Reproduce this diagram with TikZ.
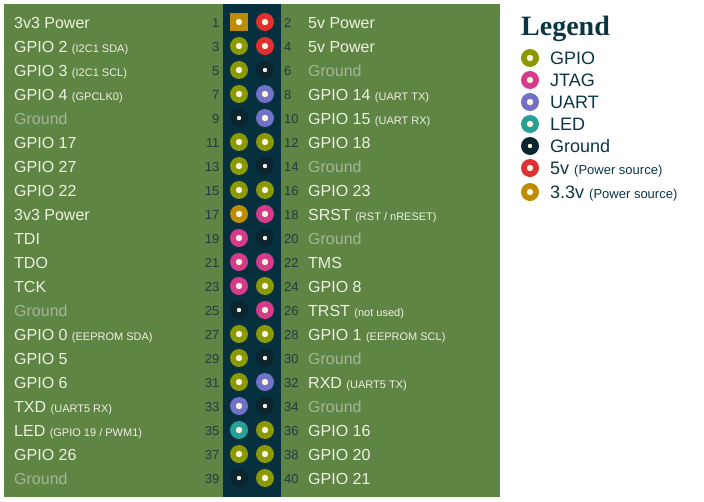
\documentclass[tikz,border=0pt]{standalone}
\usepackage{fontspec}
\setmainfont{Liberation Sans}
\newfontfamily\titlefont{Liberation Serif}

\definecolor{board}{RGB}{95,133,69}
\definecolor{strip}{RGB}{7,48,62}
\definecolor{gpioc}{RGB}{138,153,0}
\definecolor{jtagc}{RGB}{214,58,138}
\definecolor{uartc}{RGB}{113,113,200}
\definecolor{ledc}{RGB}{40,160,152}
\definecolor{gndc}{RGB}{10,36,48}
\definecolor{fivec}{RGB}{224,48,48}
\definecolor{threec}{RGB}{189,140,0}
\definecolor{dotc}{RGB}{255,248,225}
\definecolor{lighttext}{RGB}{238,240,225}
\definecolor{gndtext}{RGB}{160,184,148}
\definecolor{numc}{RGB}{30,62,60}
\definecolor{ink}{RGB}{11,53,69}

\newcommand{\pinnote}[1]{{\fontsize{11}{13}\selectfont(#1)}}

\tikzset{
  hole/.style={circle, minimum size=18pt, inner sep=0pt,
    path picture={\fill[dotc] (path picture bounding box.center) circle (3.2pt);}},
  gpio/.style={fill=gpioc},
  jtag/.style={fill=jtagc},
  uart/.style={fill=uartc},
  led/.style={fill=ledc},
  fivev/.style={fill=fivec},
  threev/.style={fill=threec},
  threevsq/.style={rectangle, fill=threec},
  gnd/.style={fill=gndc,
    path picture={\fill[dotc] (path picture bounding box.center) circle (2.2pt);}},
  lbl/.style={inner sep=0pt, text=lighttext, font=\fontsize{16}{19}\selectfont},
  gndlbl/.style={lbl, text=gndtext},
  num/.style={inner sep=0pt, text=numc, font=\fontsize{13}{15}\selectfont},
  keytext/.style={inner sep=0pt, text=ink, font=\fontsize{18}{21}\selectfont}
}

\begin{document}
\begin{tikzpicture}[x=1pt,y=-1pt]
\useasboundingbox (0,0) rectangle (704,501);

% header board
\fill[board] (4,4) rectangle (500,497);
\fill[strip] (223,4) rectangle (281,497);

% odd pins, left side
\foreach \n/\kind/\txt/\look [count=\r from 0] in {
    1/threevsq/{3v3 Power}/lbl,
    3/gpio/{GPIO 2 \pinnote{I2C1 SDA}}/lbl,
    5/gpio/{GPIO 3 \pinnote{I2C1 SCL}}/lbl,
    7/gpio/{GPIO 4 \pinnote{GPCLK0}}/lbl,
    9/gnd/{Ground}/gndlbl,
    11/gpio/{GPIO 17}/lbl,
    13/gpio/{GPIO 27}/lbl,
    15/gpio/{GPIO 22}/lbl,
    17/threev/{3v3 Power}/lbl,
    19/jtag/{TDI}/lbl,
    21/jtag/{TDO}/lbl,
    23/jtag/{TCK}/lbl,
    25/gnd/{Ground}/gndlbl,
    27/gpio/{GPIO 0 \pinnote{EEPROM SDA}}/lbl,
    29/gpio/{GPIO 5}/lbl,
    31/gpio/{GPIO 6}/lbl,
    33/uart/{TXD \pinnote{UART5 RX}}/lbl,
    35/led/{LED \pinnote{GPIO 19 / PWM1}}/lbl,
    37/gpio/{GPIO 26}/lbl,
    39/gnd/{Ground}/gndlbl}{
  \node[hole, \kind] (p\n) at (239,22+24*\r) {};
  \node[num, anchor=base east] (n\n) at (219.5,27.4+24*\r) {\n};
  \node[\look, anchor=base west] (t\n) at (14,28.3+24*\r) {\txt};
}

% even pins, right side
\foreach \n/\kind/\txt/\look [count=\r from 0] in {
    2/fivev/{5v Power}/lbl,
    4/fivev/{5v Power}/lbl,
    6/gnd/{Ground}/gndlbl,
    8/uart/{GPIO 14 \pinnote{UART TX}}/lbl,
    10/uart/{GPIO 15 \pinnote{UART RX}}/lbl,
    12/gpio/{GPIO 18}/lbl,
    14/gnd/{Ground}/gndlbl,
    16/gpio/{GPIO 23}/lbl,
    18/jtag/{SRST \pinnote{RST / nRESET}}/lbl,
    20/gnd/{Ground}/gndlbl,
    22/jtag/{TMS}/lbl,
    24/gpio/{GPIO 8}/lbl,
    26/jtag/{TRST \pinnote{not used}}/lbl,
    28/gpio/{GPIO 1 \pinnote{EEPROM SCL}}/lbl,
    30/gnd/{Ground}/gndlbl,
    32/uart/{RXD \pinnote{UART5 TX}}/lbl,
    34/gnd/{Ground}/gndlbl,
    36/gpio/{GPIO 16}/lbl,
    38/gpio/{GPIO 20}/lbl,
    40/gpio/{GPIO 21}/lbl}{
  \node[hole, \kind] (p\n) at (265,22+24*\r) {};
  \node[num, anchor=base west] (n\n) at (284,27.4+24*\r) {\n};
  \node[\look, anchor=base west] (t\n) at (308,28.3+24*\r) {\txt};
}

% legend
\node[inner sep=0pt, anchor=base west, text=ink,
  font={\titlefont\bfseries\fontsize{28}{32}\selectfont}] (legend) at (521,35) {Legend};
\foreach \kind/\txt/\y in {
    gpio/{GPIO}/58,
    jtag/{JTAG}/80,
    uart/{UART}/102,
    led/{LED}/124,
    gnd/{Ground}/146,
    fivev/{5v {\fontsize{13}{15}\selectfont(Power source)}}/168,
    threev/{3.3v {\fontsize{13}{15}\selectfont(Power source)}}/192}{
  \node[hole, \kind] (k\kind) at (530,\y) {};
  \node[keytext, anchor=base west] (kt\kind) at (550,\y+6.5) {\txt};
}
\end{tikzpicture}
\end{document}
